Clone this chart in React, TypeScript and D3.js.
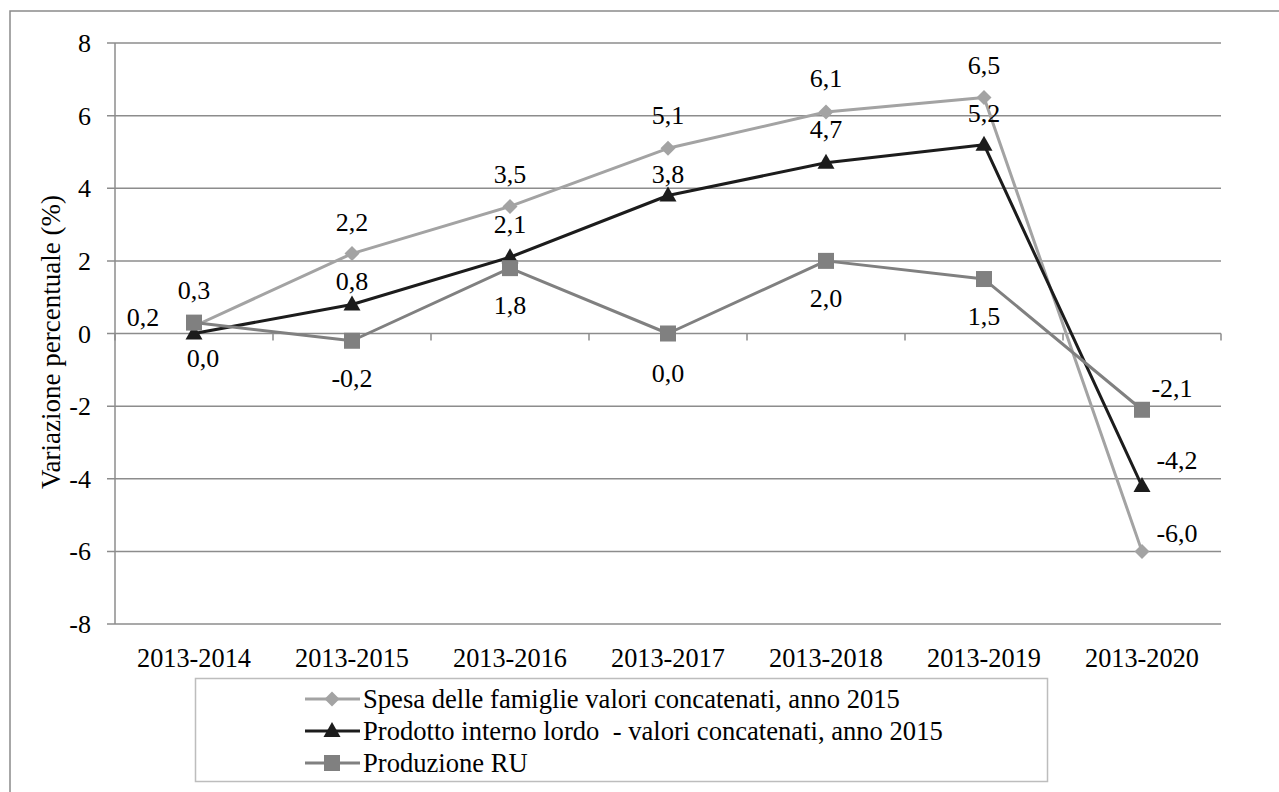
import React from "react";
import * as d3 from "d3";

const categories = ["2013-2014", "2013-2015", "2013-2016", "2013-2017", "2013-2018", "2013-2019", "2013-2020"];
const spesaValues = [0.2, 2.2, 3.5, 5.1, 6.1, 6.5, -6.0];
const pilValues = [0.0, 0.8, 2.1, 3.8, 4.7, 5.2, -4.2];
const ruValues = [0.3, -0.2, 1.8, 0.0, 2.0, 1.5, -2.1];
const yTicks = [-8, -6, -4, -2, 0, 2, 4, 6, 8];
const seriesNames = [
  "Spesa delle famiglie valori concatenati, anno 2015",
  "Prodotto interno lordo  - valori concatenati, anno 2015",
  "Produzione RU",
];

// label offsets (px) relative to marker centre
const spesaLabelOffsets = [[-51, -9], [0, -32], [0, -33], [0, -33], [0, -34], [0, -33], [35, -18]];
const pilLabelOffsets = [[9, 24], [0, -24], [0, -33], [0, -22], [0, -34], [0, -32], [35, -26]];
const ruLabelOffsets = [[0, -33], [0, 37], [0, 37], [0, 39], [0, 37], [0, 37], [30, -22]];

const W = 1279;
const H = 792;
const FONT = "Liberation Serif";
const FS = 26;
const GRID = "#8c8c8c";

type Series = { name: string; values: number[]; color: string; marker: string; offsets: number[][] };

const series: Series[] = [
  { name: seriesNames[0], values: spesaValues, color: "#a3a3a3", marker: "diamond", offsets: spesaLabelOffsets },
  { name: seriesNames[1], values: pilValues, color: "#1c1c1c", marker: "triangle", offsets: pilLabelOffsets },
  { name: seriesNames[2], values: ruValues, color: "#808080", marker: "square", offsets: ruLabelOffsets },
];

function Marker({ type, x, y, color }: { type: string; x: number; y: number; color: string }) {
  if (type === "diamond") {
    const r = 7.5;
    return <path d={`M${x},${y - r}L${x + r},${y}L${x},${y + r}L${x - r},${y}Z`} fill={color} />;
  }
  if (type === "triangle") {
    return <path d={`M${x},${y - 9}L${x + 8.5},${y + 6}L${x - 8.5},${y + 6}Z`} fill={color} />;
  }
  return <rect x={x - 8} y={y - 8} width={16} height={16} fill={color} />;
}

const fmt = (v: number) => v.toFixed(1).replace(".", ",");
const st = (size: number) => ({ fontFamily: FONT, fontSize: size + "px", whiteSpace: "pre" as const });

export default function App() {
  const x = d3.scaleBand<string>().domain(categories).range([115, 1221]).padding(0);
  const y = d3.scaleLinear().domain([-8, 8]).range([624, 43]);
  const cx = (c: string) => (x(c) as number) + x.bandwidth() / 2;
  const line = d3
    .line<number>()
    .x((_, i) => cx(categories[i]))
    .y((v) => y(v));

  const boundaries = categories.map((c) => x(c) as number).concat([1221]);

  return (
    <svg width={W} height={H} style={{ position: "absolute", left: 0, top: 0, background: "#fff" }}>
      <rect x={0} y={0} width={W} height={H} fill="#fff" />
      <rect x={10} y={11} width={1300} height={800} fill="none" stroke="#8a8a8a" strokeWidth={1.5} />

      {yTicks.map((t) => (
        <line key={t} x1={107} x2={1221} y1={y(t)} y2={y(t)} stroke={GRID} strokeWidth={1.5} />
      ))}
      <line x1={115} x2={115} y1={y(8)} y2={y(-8)} stroke={GRID} strokeWidth={1.5} />
      {boundaries.map((b, i) => (
        <line key={i} x1={b} x2={b} y1={y(0)} y2={y(0) + 7} stroke={GRID} strokeWidth={1.5} />
      ))}

      {yTicks.map((t) => (
        <text key={t} x={91} y={y(t)} dy="0.35em" textAnchor="end" style={st(FS)} fill="#000">
          {t}
        </text>
      ))}
      {categories.map((c) => (
        <text key={c} x={cx(c)} y={667} textAnchor="middle" style={st(26.3)} fill="#000">
          {c}
        </text>
      ))}
      <text transform="translate(60,342) rotate(-90)" textAnchor="middle" style={st(27)} fill="#000">
        Variazione percentuale (%)
      </text>

      {series.map((s) => (
        <g key={s.name}>
          <path d={line(s.values) || ""} fill="none" stroke={s.color} strokeWidth={3} strokeLinejoin="round" />
          {s.values.map((v, i) => (
            <Marker key={i} type={s.marker} x={cx(categories[i])} y={y(v)} color={s.color} />
          ))}
        </g>
      ))}
      {series.map((s) => (
        <g key={s.name + "-lab"}>
          {s.values.map((v, i) => (
            <text
              key={i}
              x={cx(categories[i]) + s.offsets[i][0]}
              y={y(v) + s.offsets[i][1]}
              dy="0.35em"
              textAnchor="middle"
              style={st(FS)}
              fill="#000"
            >
              {fmt(v)}
            </text>
          ))}
        </g>
      ))}

      <rect x={195.5} y={678.5} width={852} height={103} fill="#fff" stroke="#bdbdbd" strokeWidth={1.5} />
      {series.map((s, i) => {
        const ly = 699 + i * 32;
        return (
          <g key={s.name + "-leg"}>
            <line x1={305} x2={360} y1={ly} y2={ly} stroke={s.color} strokeWidth={3} />
            <Marker type={s.marker} x={332} y={ly} color={s.color} />
            <text x={363} y={ly} dy="0.35em" style={st(26.6)} fill="#000">
              {s.name}
            </text>
          </g>
        );
      })}
    </svg>
  );
}
